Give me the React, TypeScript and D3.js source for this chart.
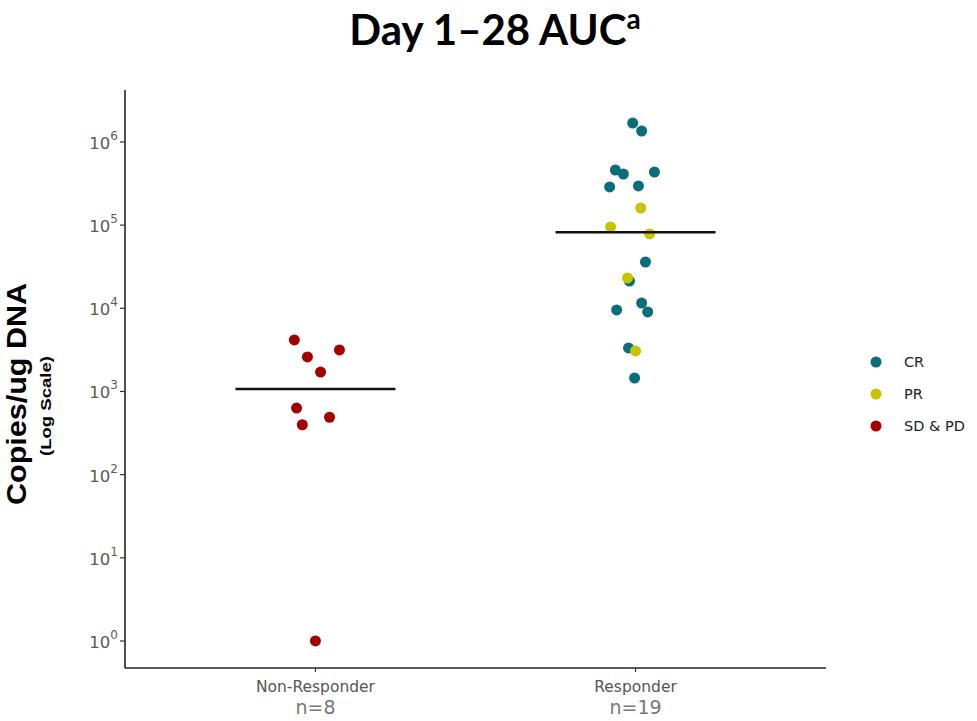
import React from "react";
import * as d3 from "d3";

const groups = ["Non-Responder", "Responder"];
const groupN = ["n=8", "n=19"];
const responseCats = ["CR", "PR", "SD & PD"];
const catColors = ["#0a6e78", "#c8c200", "#a50000"];
const yTickExps = [0, 1, 2, 3, 4, 5, 6];

// log10 values, jitter offsets (fraction of group step), categories
const nonRespLog = [3.62, 3.415, 3.5, 3.234, 2.8, 2.69, 2.6, 0];
const nonRespJitter = [-0.066, -0.025, 0.075, 0.016, -0.059, 0.044, -0.041, 0];
const nonRespCat = ["SD & PD", "SD & PD", "SD & PD", "SD & PD", "SD & PD", "SD & PD", "SD & PD", "SD & PD"];

const respLog = [6.228, 6.132, 5.663, 5.615, 5.639, 5.459, 5.471, 5.206, 4.978, 4.894, 4.557, 4.328, 4.064, 3.98, 3.956, 3.523, 3.162, 4.365, 3.487];
const respJitter = [-0.009, 0.019, -0.063, -0.038, 0.059, -0.081, 0.009, 0.016, -0.078, 0.044, 0.031, -0.019, 0.019, -0.059, 0.038, -0.022, -0.003, -0.025, 0];
const respCat = ["CR", "CR", "CR", "CR", "CR", "CR", "CR", "PR", "PR", "PR", "CR", "CR", "CR", "CR", "CR", "CR", "CR", "PR", "PR"];

const medians = [1070, 82000];

const DEJAVU = '"DejaVu Sans", Verdana, sans-serif';
const ARIAL = '"Liberation Sans", Arial, sans-serif';
const TITLE = 'Lato, "Liberation Sans", sans-serif';

export default function App() {
  const W = 977, H = 721;
  const left = 125, right = 826, top = 90, bottom = 668;
  const y = d3.scaleLog().domain([Math.pow(10, -0.325), Math.pow(10, 6.625)]).range([bottom, top]);
  const x = d3.scalePoint().domain(groups).range([left, right]).padding(0.595);
  const step = x.step();
  const color = d3.scaleOrdinal<string, string>().domain(responseCats).range(catColors);

  const points = [
    ...nonRespLog.map((v, i) => ({ g: groups[0], v, j: nonRespJitter[i], c: nonRespCat[i] })),
    ...respLog.map((v, i) => ({ g: groups[1], v, j: respJitter[i], c: respCat[i] })),
  ];

  return (
    <svg width={W} height={H} style={{ position: "absolute", left: 0, top: 0, background: "#fff" }}>
      <text x={495} y={45} textAnchor="middle" style={{ fontFamily: TITLE, fontWeight: 700, fontSize: 42 }} fill="#000">
        Day 1–28 AUC<tspan dy={-16} style={{ fontSize: 28 }}>a</tspan>
      </text>

      {/* Axes */}
      <line x1={left} x2={left} y1={top} y2={bottom} stroke="#222" strokeWidth={1.6} />
      <line x1={left} x2={right} y1={bottom} y2={bottom} stroke="#222" strokeWidth={1.6} />

      {yTickExps.map((e) => {
        const yy = y(Math.pow(10, e));
        return (
          <g key={e}>
            <line x1={left - 5} x2={left} y1={yy} y2={yy} stroke="#333" strokeWidth={1.2} />
            <text x={left - 7} y={yy + 7} textAnchor="end" style={{ fontFamily: DEJAVU, fontSize: 16.5 }} fill="#5a5a5a">
              10<tspan dy={-9} style={{ fontSize: 12 }}>{String(e)}</tspan>
            </text>
          </g>
        );
      })}

      {groups.map((g, i) => (
        <g key={g}>
          <line x1={x(g)} x2={x(g)} y1={bottom} y2={bottom + 4} stroke="#333" strokeWidth={1.2} />
          <text x={x(g)} y={bottom + 24} textAnchor="middle" style={{ fontFamily: DEJAVU, fontSize: 15.5 }} fill="#555">{g}</text>
          <text x={x(g)} y={bottom + 46} textAnchor="middle" style={{ fontFamily: DEJAVU, fontSize: 19 }} fill="#777">{groupN[i]}</text>
        </g>
      ))}

      {/* Y title */}
      <text transform={`translate(26,394) rotate(-90)`} textAnchor="middle" style={{ fontFamily: ARIAL, fontWeight: 700, fontSize: 28 }} fill="#000" textLength={222} lengthAdjust="spacingAndGlyphs">Copies/ug DNA</text>
      <text transform={`translate(51,406) rotate(-90)`} textAnchor="middle" style={{ fontFamily: ARIAL, fontWeight: 700, fontSize: 14 }} fill="#000" textLength={100} lengthAdjust="spacingAndGlyphs">(Log Scale)</text>

      {/* Points */}
      {points.map((p, i) => (
        <circle key={i} cx={(x(p.g) as number) + p.j * step} cy={y(Math.pow(10, p.v))} r={5.5} fill={color(p.c)} />
      ))}

      {/* Medians */}
      {groups.map((g, i) => (
        <line key={g} x1={(x(g) as number) - 80} x2={(x(g) as number) + 80} y1={y(medians[i])} y2={y(medians[i])} stroke="#111" strokeWidth={2.4} />
      ))}

      {/* Legend */}
      {responseCats.map((c, i) => (
        <g key={c} transform={`translate(876,${362 + i * 32})`}>
          <circle cx={0} cy={0} r={5.5} fill={color(c)} />
          <text x={28} y={5} style={{ fontFamily: DEJAVU, fontSize: 14.5 }} fill="#222">{c}</text>
        </g>
      ))}
    </svg>
  );
}
